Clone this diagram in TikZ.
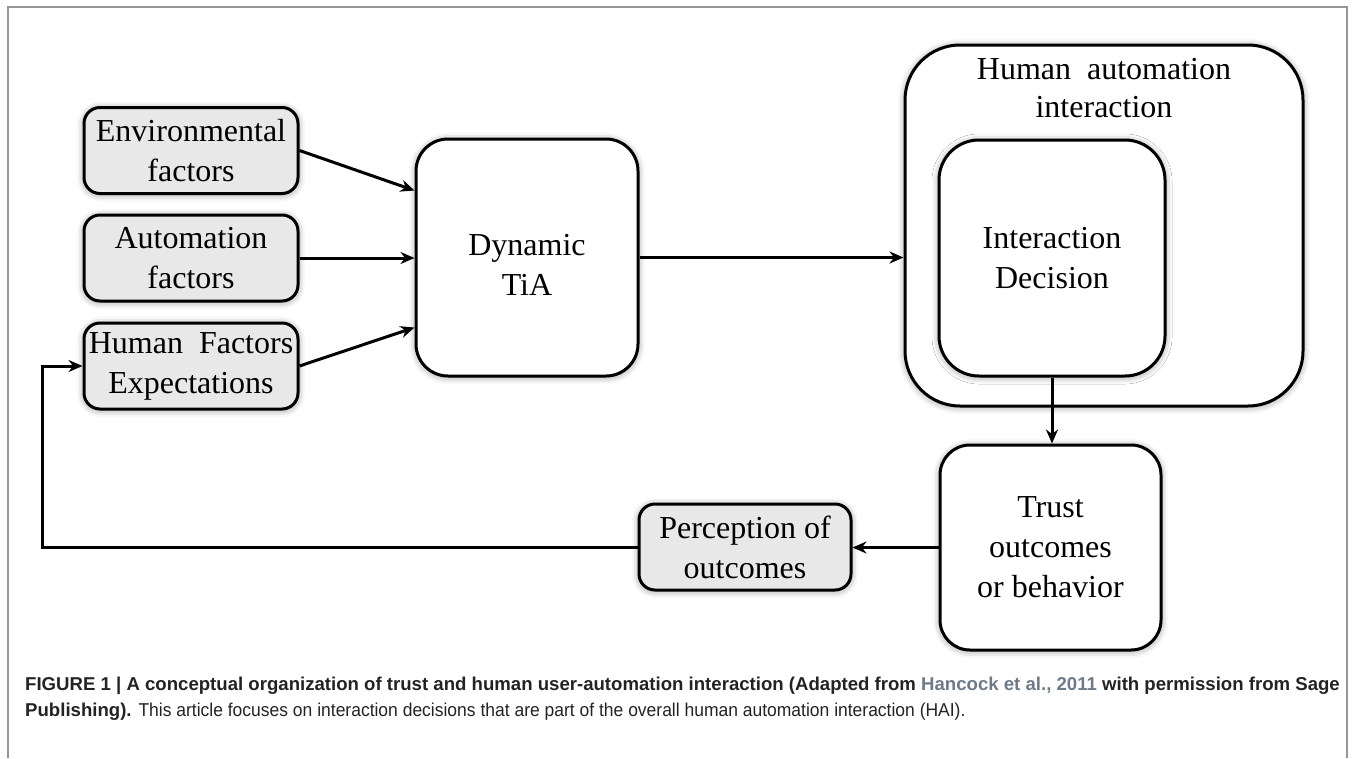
\documentclass[tikz,border=0pt]{standalone}
\usepackage{fontspec}
\setmainfont{Liberation Serif}
\newfontfamily\capfont{Liberation Sans}
\usetikzlibrary{arrows.meta,calc,shadows.blur}
\definecolor{boxgray}{RGB}{232,232,232}
\definecolor{framegray}{RGB}{150,150,150}
\definecolor{refblue}{RGB}{110,122,138}
\definecolor{captext}{RGB}{35,35,35}
\begin{document}
\begin{tikzpicture}[x=1pt,y=-1pt,
  box/.style={draw=black, line width=3pt, fill=white, align=center,
    font=\fontsize{32}{40}\selectfont, inner sep=0pt,
    blur shadow={shadow xshift=0pt, shadow yshift=-1pt, shadow blur radius=7pt, shadow opacity=45}},
  factor/.style={box, fill=boxgray, rounded corners=16pt, minimum width=214pt, minimum height=86pt},
  arr/.style={draw=black, line width=3pt, -{Stealth[length=14pt,width=12pt]}}
]
\useasboundingbox (0,0) rectangle (1354,758);
\draw[framegray, line width=1.5pt] (8,758) -- (8,7) -- (1347,7) -- (1347,758);

\node[factor] (env) at (191,150.5) {Environmental\\factors};
\node[factor] (aut) at (191,258) {Automation\\factors};
\node[factor] (hf) at (191,366) {Human\ \ Factors\\Expectations};
\node[box, rounded corners=32pt, minimum width=222pt, minimum height=237pt] (dyn) at (527,257.5) {\rule{0pt}{36pt}Dynamic\\TiA};
\node[box, rounded corners=55pt, minimum width=398pt, minimum height=361pt,
  label={[anchor=north, yshift=-11pt, align=center, font=\fontsize{32}{38}\selectfont]north:Human\ \ automation\\interaction}] (hai) at (1104,225.5) {};
\node[box, rounded corners=40pt, minimum width=226pt, minimum height=236pt] (id) at (1052,258) {Interaction\\Decision};
\node[box, rounded corners=30pt, minimum width=221pt, minimum height=205pt] (trust) at (1050.5,547.5) {Trust\\outcomes\\or behavior};
\node[factor, minimum width=212pt] (perc) at (745,547) {Perception of\\outcomes};
\coordinate (fb) at (42,366);

\draw[arr] (env.east) -- ([yshift=67pt]dyn.west);
\draw[arr] (aut.east) -- (aut.east -| dyn.west);
\draw[arr] (hf.east) -- ([yshift=-70pt]dyn.west);
\draw[arr] (dyn.east) -- (dyn.east -| hai.west);
\draw[arr] (id.south) -- (id.south |- trust.north);
\draw[arr] (trust.west) -- (trust.west -| perc.east);
\draw[arr] (perc.west) -| (fb) -- (hf.west);

\node[anchor=base west, align=left, inner sep=0pt, text=captext, font=\capfont\fontsize{18.6}{26}\selectfont] (cap) at (25,716)
  {\textbf{FIGURE 1 | A conceptual organization of trust and human user-automation interaction (Adapted from \textcolor{refblue}{Hancock et al., 2011} with permission from Sage}\\
   \textbf{Publishing).} \scalebox{0.94}[1]{This article focuses on interaction decisions that are part of the overall human automation interaction (HAI).}};
\end{tikzpicture}
\end{document}
